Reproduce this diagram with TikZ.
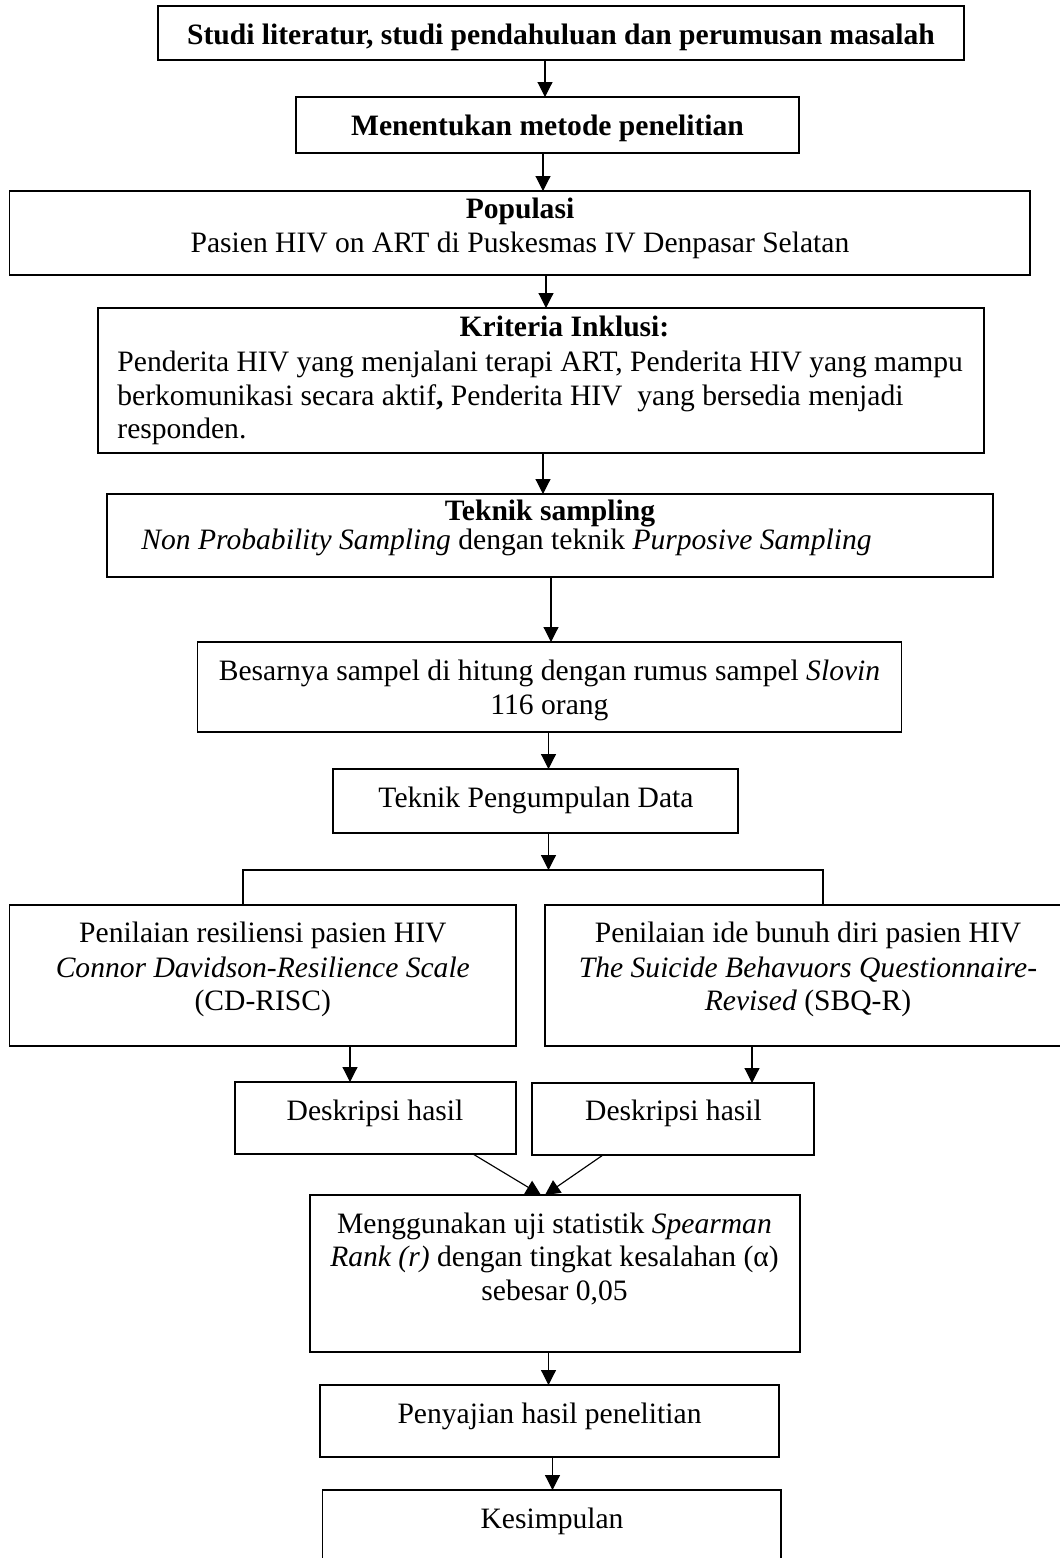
\documentclass[tikz,border=0pt]{standalone}
\usepackage{fontspec}
\setmainfont{Liberation Serif}
\usetikzlibrary{arrows.meta,fit}
\begin{document}
\begin{tikzpicture}[x=0.48pt,y=-0.48pt,
  box/.style={draw,line width=0.7pt,inner sep=0pt,outer sep=0pt},
  txt/.style={anchor=base,inner sep=0pt,font=\fontsize{14.2}{16}\selectfont},
  txtl/.style={anchor=base west,inner sep=0pt,font=\fontsize{14.2}{16}\selectfont},
  arr/.style={line width=0.55pt,-{Triangle[length=7.2pt,width=7.2pt]}},
  ln/.style={line width=0.55pt}]
\useasboundingbox (0,0) rectangle (1059,1558);
% boxes
\node[box,fit={(158,6) (964,60)}] (b1) {};
\node[box,fit={(296,97) (799,153)}] (b2) {};
\node[box,fit={(9.5,191) (1030,275)}] (b3) {};
\node[box,fit={(98,308) (984,453)}] (b4) {};
\node[box,fit={(107,494) (993,577)}] (b5) {};
\node[box,fit={(197.5,642) (901.5,732)}] (b6) {};
\node[box,fit={(333,769) (738,833)}] (b7) {};
\node[box,fit={(9.5,905) (516,1046)}] (b8) {};
\node[box,fit={(545,905) (1071,1046)}] (b9) {};
\node[box,fit={(235,1082) (516,1154)}] (b10) {};
\node[box,fit={(532,1083) (814,1155)}] (b11) {};
\node[box,fit={(310,1195) (800,1352)}] (b12) {};
\node[box,fit={(320,1385) (779,1457)}] (b13) {};
\node[box,fit={(322.5,1490) (781,1580)}] (b14) {};
% texts
\node[txt] (t1) at (561,44) {\textbf{Studi literatur, studi pendahuluan dan perumusan masalah}};
\node[txt] (t2) at (547.5,135) {\textbf{Menentukan metode penelitian}};
\node[txt] (t3a) at (520,218) {\textbf{Populasi}};
\node[txt] (t3b) at (520,252) {Pasien HIV on ART di Puskesmas IV Denpasar Selatan};
\node[txt] (t4a) at (564.5,336.7) {\textbf{Kriteria Inklusi:}};
\node[txtl] (t4b) at (117,371.7) {Penderita HIV yang menjalani terapi ART, Penderita HIV yang mampu};
\node[txtl] (t4c) at (117,405) {berkomunikasi secara aktif\textbf{,} Penderita HIV\ \ yang bersedia menjadi};
\node[txtl] (t4d) at (117,438.3) {responden.};
\node[txt] (t5a) at (550,520) {\textbf{Teknik sampling}};
\node[txtl] (t5b) at (141,549) {\textit{Non Probability Sampling} dengan teknik \textit{Purposive Sampling}};
\node[txt] (t6a) at (549.5,680) {Besarnya sampel di hitung dengan rumus sampel \textit{Slovin}};
\node[txt] (t6b) at (549.5,714) {116 orang};
\node[txt] (t7) at (536,807.7) {Teknik Pengumpulan Data};
\node[txt] (t8a) at (262.8,942.7) {Penilaian resiliensi pasien HIV};
\node[txt] (t8b) at (262.8,977.3) {\textit{Connor Davidson-Resilience Scale}};
\node[txt] (t8c) at (262.8,1010.7) {(CD-RISC)};
\node[txt] (t9a) at (808,942.7) {Penilaian ide bunuh diri pasien HIV};
\node[txt] (t9b) at (808,977.3) {\textit{The Suicide Behavuors Questionnaire-}};
\node[txt] (t9c) at (808,1010.7) {\textit{Revised} (SBQ-R)};
\node[txt] (t10) at (375,1120.7) {Deskripsi hasil};
\node[txt] (t11) at (673.5,1120.7) {Deskripsi hasil};
\node[txt] (t12a) at (554.5,1233) {Menggunakan uji statistik \textit{Spearman}};
\node[txt] (t12b) at (554.5,1266.7) {\textit{Rank (r)} dengan tingkat kesalahan (α)};
\node[txt] (t12c) at (554.5,1300) {sebesar 0,05};
\node[txt] (t13) at (549.5,1423) {Penyajian hasil penelitian};
\node[txt] (t14) at (552,1528) {Kesimpulan};
% arrow x positions
\coordinate (x1) at (545,0);
\coordinate (x2) at (543,0);
\coordinate (x3) at (546,0);
\coordinate (x4) at (543,0);
\coordinate (x5) at (551,0);
\coordinate (x6) at (548.5,0);
\coordinate (x8l) at (243,0);
\coordinate (x8r) at (823,0);
\coordinate (x10) at (350,0);
\coordinate (x11) at (752,0);
\coordinate (x13) at (548.5,0);
\coordinate (x14) at (552.5,0);
\coordinate (split) at (548.5,870);
\coordinate (d10) at (473,0);
\coordinate (d11) at (603,0);
\coordinate (m1) at (541,0);
\coordinate (m2) at (545,0);
% connectors
\draw[arr] (b1.south -| x1) -- (b2.north -| x1);
\draw[arr] (b2.south -| x2) -- (b3.north -| x2);
\draw[arr] (b3.south -| x3) -- (b4.north -| x3);
\draw[arr] (b4.south -| x4) -- (b5.north -| x4);
\draw[arr] (b5.south -| x5) -- (b6.north -| x5);
\draw[arr] (b6.south -| x6) -- (b7.north -| x6);
\draw[arr] (b7.south -| x6) -- (split);
\draw[ln] (b8.north -| x8l) -- (x8l |- split) -- (x8r |- split) -- (b9.north -| x8r);
\draw[arr] (b8.south -| x10) -- (b10.north -| x10);
\draw[arr] (b9.south -| x11) -- (b11.north -| x11);
\draw[arr] (b10.south -| d10) -- (b12.north -| m1);
\draw[arr] (b11.south -| d11) -- (b12.north -| m2);
\draw[arr] (b12.south -| x13) -- (b13.north -| x13);
\draw[arr] (b13.south -| x14) -- (b14.north -| x14);
\end{tikzpicture}
\end{document}
